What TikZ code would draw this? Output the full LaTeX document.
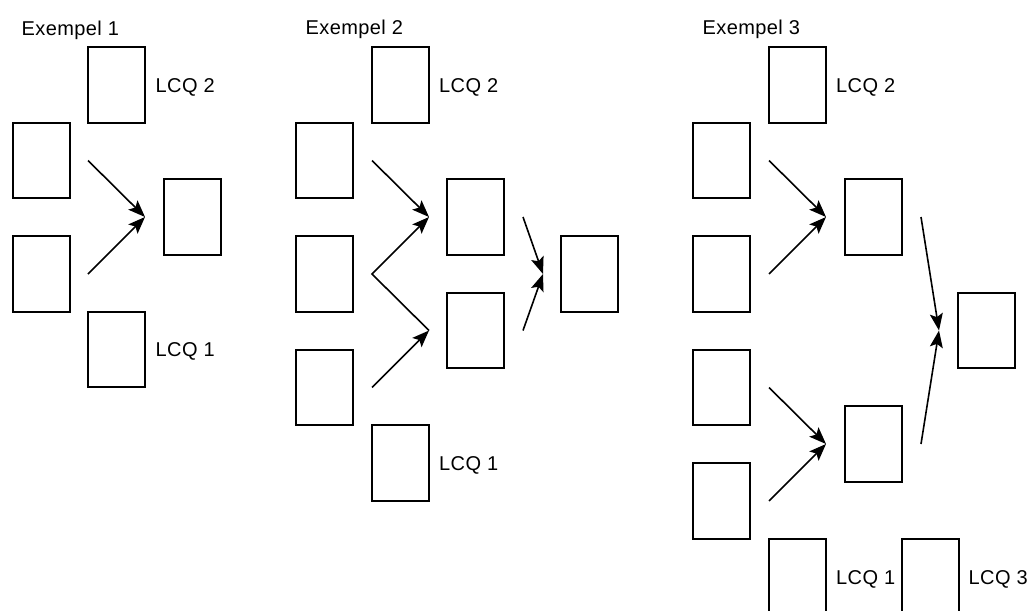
\documentclass[tikz,border=0pt]{standalone}
\usepackage{fontspec}
\setmainfont{Liberation Sans}[LetterSpace=2]
\usetikzlibrary{arrows.meta}
\begin{document}
\begin{tikzpicture}[x=1pt,y=-1pt,
  box/.style={draw=black,line width=2pt,minimum width=57pt,minimum height=75.5pt,inner sep=0pt,outer sep=0pt},
  lbl/.style={inner sep=0pt,anchor=base west,font=\fontsize{20}{24}\selectfont},
  arr/.style={line width=1.6pt,-{Stealth[length=17pt,width=13pt,inset=3.5pt]}}]
\useasboundingbox (0,0) rectangle (1032,610);
\clip (0,0) rectangle (1032,610);
% ---------- Exempel 1
\node[lbl] (t1) at (21.5,35.5) {Exempel 1};
\node[box] (e1t) at (116.5,85) {};
\node[box] (e1a) at (41.5,160.5) {};
\node[box] (e1b) at (41.5,274) {};
\node[box] (e1c) at (192.5,217) {};
\node[box] (e1l) at (116.5,349.5) {};
\node[lbl] (e1tl) at ([xshift=10.5pt,yshift=-7pt]e1t.east) {LCQ 2};
\node[lbl] (e1ll) at ([xshift=10.5pt,yshift=-7pt]e1l.east) {LCQ 1};
\draw[arr] ([xshift=18pt]e1a.east) -- ([xshift=-19pt]e1c.west);
\draw[arr] ([xshift=18pt]e1b.east) -- ([xshift=-19pt]e1c.west);
% ---------- Exempel 2
\node[lbl] (t2) at (305.5,35) {Exempel 2};
\node[box] (e2t) at (400.5,85) {};
\node[box] (e2a) at (324.5,160.5) {};
\node[box] (e2b) at (324.5,274) {};
\node[box] (e2c) at (324.5,387.5) {};
\node[box] (e2m1) at (475.5,217) {};
\node[box] (e2m2) at (475.5,330.5) {};
\node[box] (e2r) at (589.5,274) {};
\node[box] (e2l) at (400.5,463) {};
\node[lbl] (e2tl) at ([xshift=10pt,yshift=-7pt]e2t.east) {LCQ 2};
\node[lbl] (e2ll) at ([xshift=10pt,yshift=-7pt]e2l.east) {LCQ 1};
\draw[arr] ([xshift=19pt]e2a.east) -- ([xshift=-18pt]e2m1.west);
\draw[arr] ([xshift=-18pt]e2m2.west) -- ([xshift=19pt]e2b.east) -- ([xshift=-18pt]e2m1.west);
\draw[arr] ([xshift=19pt]e2c.east) -- ([xshift=-18pt]e2m2.west);
\draw[arr] ([xshift=19pt]e2m1.east) -- ([xshift=-18pt]e2r.west);
\draw[arr] ([xshift=19pt]e2m2.east) -- ([xshift=-18pt]e2r.west);
% ---------- Exempel 3
\node[lbl] (t3) at (702.5,35) {Exempel 3};
\node[box] (e3t) at (797.5,85) {};
\node[box] (e3a) at (721.5,160.5) {};
\node[box] (e3b) at (721.5,274) {};
\node[box] (e3c) at (721.5,387.5) {};
\node[box] (e3d) at (721.5,501) {};
\node[box] (e3m1) at (873.5,217) {};
\node[box] (e3m2) at (873.5,444) {};
\node[box] (e3r) at (986.5,330.5) {};
\node[box] (e3l1) at (797.5,577) {};
\node[box] (e3l3) at (930.5,577) {};
\node[lbl] (e3tl) at ([xshift=10pt,yshift=-7pt]e3t.east) {LCQ 2};
\node[lbl] (e3l1l) at ([xshift=10pt,yshift=-7pt]e3l1.east) {LCQ 1};
\node[lbl] (e3l3l) at ([xshift=9.5pt,yshift=-7pt]e3l3.east) {LCQ 3};
\draw[arr] ([xshift=19pt]e3a.east) -- ([xshift=-19pt]e3m1.west);
\draw[arr] ([xshift=19pt]e3b.east) -- ([xshift=-19pt]e3m1.west);
\draw[arr] ([xshift=19pt]e3c.east) -- ([xshift=-19pt]e3m2.west);
\draw[arr] ([xshift=19pt]e3d.east) -- ([xshift=-19pt]e3m2.west);
\draw[arr] ([xshift=19pt]e3m1.east) -- ([xshift=-19pt]e3r.west);
\draw[arr] ([xshift=19pt]e3m2.east) -- ([xshift=-19pt]e3r.west);
\end{tikzpicture}
\end{document}
